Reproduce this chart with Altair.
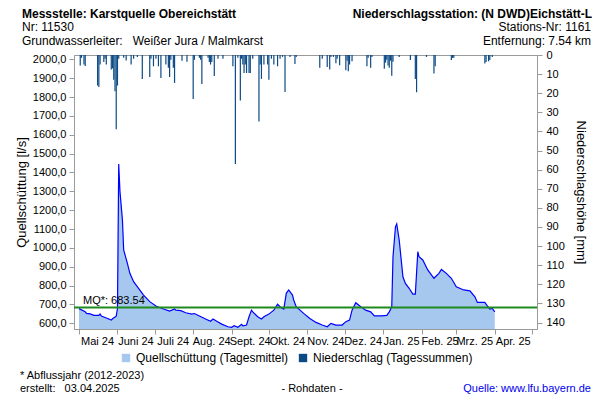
import altair as alt
import pandas as pd

# ---------------- data ----------------
START = "2024-05-01"  # day 0 of the offsets below

flow_day = [0, 5, 6, 9, 12, 16, 17, 18, 22, 26,
            27, 30, 31, 32, 33, 35, 36, 39, 41, 44,
            48, 52, 57, 62, 68, 73, 77, 78, 82, 86,
            91, 93, 97, 102, 106, 108, 111, 115, 120, 123,
            125, 128, 131, 132, 135, 137, 139, 140, 144, 147,
            149, 153, 157, 160, 162, 164, 165, 167, 169, 172,
            173, 175, 181, 186, 191, 196, 200, 203, 207, 212,
            215, 218, 220, 223, 227, 231, 235, 238, 244, 248,
            250, 252, 253, 255, 256, 258, 261, 263, 266, 269,
            271, 273, 274, 277, 281, 286, 290, 292, 296, 300,
            304, 310, 315, 319, 321, 327, 329, 331, 333, 335]
flow_val = [678, 661, 653, 650, 642, 642, 650, 639, 628, 617,
            624, 638, 680, 1445, 1300, 1148, 989, 918, 865, 821,
            786, 750, 715, 692, 676, 665, 676, 670, 667, 656,
            649, 652, 639, 623, 611, 623, 611, 596, 582, 579,
            587, 579, 595, 587, 591, 635, 670, 661, 635, 623,
            635, 649, 670, 701, 688, 679, 676, 759, 777, 750,
            724, 688, 653, 626, 605, 591, 582, 600, 591, 591,
            609, 617, 670, 709, 688, 670, 661, 640, 640, 642,
            661, 688, 953, 1112, 1127, 1042, 847, 812, 786, 755,
            755, 980, 953, 936, 883, 839, 865, 886, 865, 839,
            794, 777, 772, 741, 711, 711, 693, 676, 679, 661]

rain_day = [1, 2, 4, 5, 15, 16, 17, 20, 21, 22,
            26, 27, 28, 29, 30, 31, 32, 36, 38, 42,
            44, 47, 51, 57, 58, 60, 62, 64, 66, 70,
            72, 73, 74, 76, 77, 83, 87, 92, 93, 97,
            98, 99, 104, 105, 106, 107, 109, 112, 116, 124,
            126, 128, 130, 131, 132, 133, 134, 135, 137, 138,
            140, 145, 146, 147, 149, 152, 153, 155, 157, 160,
            162, 164, 166, 170, 174, 175, 194, 196, 200, 202,
            203, 205, 207, 208, 210, 215, 216, 217, 218, 220,
            232, 233, 235, 236, 246, 247, 248, 249, 250, 251,
            252, 253, 258, 267, 271, 272, 280, 286, 287, 300,
            301, 302, 327, 328, 330, 331, 333]
rain_mm = [5.5, 1.5, 5.0, 5.8, 16.0, 16.7, 5.0, 3.7, 2.0, 5.0,
           7.6, 7.0, 12.9, 19.0, 38.8, 16.0, 2.0, 1.5, 2.9, 5.0,
           2.0, 1.0, 12.5, 11.5, 2.0, 5.9, 2.0, 5.9, 12.0, 5.0,
           6.7, 11.5, 2.5, 6.7, 14.6, 3.0, 3.5, 23.0, 2.5, 1.5,
           2.5, 15.2, 1.5, 3.7, 5.0, 3.7, 11.0, 2.0, 2.0, 5.9,
           57.0, 1.5, 23.8, 2.0, 5.0, 9.4, 5.0, 9.4, 9.4, 9.4,
           2.0, 34.8, 5.0, 12.5, 5.0, 5.0, 12.9, 2.0, 5.0, 5.9,
           2.0, 1.0, 19.4, 1.0, 4.7, 1.0, 6.7, 2.0, 6.3, 7.6,
           1.0, 1.0, 4.3, 2.0, 5.3, 8.0, 3.0, 8.5, 5.0, 3.3,
           5.9, 1.5, 6.7, 1.0, 7.2, 4.0, 2.5, 5.5, 6.7, 3.0,
           10.8, 3.5, 1.0, 2.6, 12.5, 19.5, 1.0, 9.7, 5.9, 2.6,
           1.5, 1.5, 4.5, 3.7, 3.3, 2.6, 1.0]

mq_value = 683.54
flow_ticks = list(range(600, 2001, 100))
rain_ticks = list(range(0, 141, 10))
month_names = ["Jan.", "Feb.", "Mrz.", "Apr.", "Mai", "Juni",
               "Juli", "Aug.", "Sept.", "Okt.", "Nov.", "Dez."]
series_names = ["Quellschüttung (Tagesmittel)", "Niederschlag (Tagessummen)"]
series_colors = ["#a6c8ee", "#0c4a85"]

NB = "\u00a0"
header_left = ["Messstelle: Karstquelle Obereichstätt",
               "Nr: 11530",
               "Grundwasserleiter:" + NB * 3 + "Weißer Jura / Malmkarst"]
header_right = ["Niederschlagsstation: (N DWD)Eichstätt-L",
                "Stations-Nr: 1161",
                "Entfernung: 7.54 km"]
footer_note = "* Abflussjahr (2012-2023)"
footer_created = "erstellt:" + NB * 3 + "03.04.2025"
footer_mid = "- Rohdaten -"
footer_source = "Quelle: www.lfu.bayern.de"

# ---------------- tables ----------------
start = pd.Timestamp(START)
flow = pd.DataFrame({"datum": start + pd.to_timedelta(flow_day, unit="D"),
                     "q": flow_val, "serie": series_names[0]})
rain = pd.DataFrame({"datum": start + pd.to_timedelta(rain_day, unit="D"),
                     "mm": rain_mm, "serie": series_names[1]})
mq = pd.DataFrame({"q": [mq_value], "label": [f"MQ*: {mq_value:.2f}"]})

FONT = "Liberation Sans"
W, H = 463, 274
GRAY = "#9a9a9a"

month_starts = [alt.DateTime(year=2024 + (4 + i) // 12, month=(4 + i) % 12 + 1, date=1)
                for i in range(13)]
x_scale = alt.Scale(domain=[month_starts[0], month_starts[-1]])
names_js = "[" + ",".join(f"'{m}'" for m in month_names) + "]"
x_axis = alt.Axis(
    values=month_starts, title=None, grid=False, tickSize=5, labelPadding=1,
    labelOffset=18, labelOverlap=False, labelFlush=False, labelBound=False,
    labelExpr=("(year(datum.value) == 2025 && month(datum.value) == 4) ? '' : "
               + names_js + "[month(datum.value)] + ' ' + timeFormat(datum.value, '%y')"),
)
X = alt.X("datum:T", scale=x_scale, axis=x_axis)

y_flow = alt.Y(
    "q:Q",
    scale=alt.Scale(domain=[570, 2023], nice=False, zero=False),
    axis=alt.Axis(orient="left", values=flow_ticks, title="Quellschüttung [l/s]",
                  labelExpr="replace(format(datum.value, '.1f'), '.', ',')",
                  tickSize=5, labelPadding=3, titlePadding=4),
)
y_rain = alt.Y(
    "mm:Q",
    scale=alt.Scale(domain=[0, 143.4], nice=False, reverse=True),
    axis=alt.Axis(orient="right", values=rain_ticks, title="Niederschlagshöhe [mm]",
                  tickSize=5, labelPadding=4, titlePadding=9),
)
color_scale = alt.Scale(domain=series_names, range=series_colors)
legend = alt.Legend(orient="none", legendX=46, legendY=297, direction="horizontal",
                    title=None, symbolType="square", symbolSize=70, labelFontSize=12,
                    labelFont=FONT, labelColor="#000", columnPadding=8, labelOffset=4,
                    padding=0, symbolStrokeWidth=0)
C = alt.Color("serie:N", scale=color_scale, legend=legend)

area = alt.Chart(flow).mark_area(opacity=1, clip=True).encode(x=X, y=y_flow, color=C)
line = alt.Chart(flow).mark_line(color="#0000ff", strokeWidth=1.2).encode(x=X, y=y_flow)
rule = alt.Chart(mq).mark_rule(color="#1f8a1f", strokeWidth=2).encode(y=y_flow)
mq_text = alt.Chart(mq).mark_text(align="left", baseline="alphabetic", dy=-4,
                                  fontSize=11, font=FONT, color="#000").encode(
    x=alt.value(9), y=y_flow, text="label:N")
flow_layer = alt.layer(area, line, rule, mq_text)

bars = alt.Chart(rain).mark_bar(width=1.2).encode(x=X, y=y_rain, color=C)


def label(txt, x, y, align="left", size=12, weight="normal", color="#000"):
    return alt.Chart(pd.DataFrame({"t": [txt]})).mark_text(
        align=align, baseline="middle", fontSize=size, fontWeight=weight,
        font=FONT, color=color).encode(x=alt.value(x), y=alt.value(y), text="t:N")


texts = [
    label(header_left[0], -52, -41.5, weight="bold"),
    label(header_left[1], -52, -28.5),
    label(header_left[2], -52, -14.5),
    label(header_right[0], 518, -41.5, align="right", weight="bold"),
    label(header_right[1], 517, -28.5, align="right"),
    label(header_right[2], 517, -14.5, align="right"),
    label(footer_note, -54, 321, size=11),
    label(footer_created, -54, 334, size=11),
    label(footer_mid, 238, 334, align="center", size=11),
    label(footer_source, 517, 334, align="right", size=11, color="#0000ee"),
]

chart = alt.layer(flow_layer, bars, *texts).resolve_scale(y="independent").properties(
    width=W, height=H,
    autosize=alt.AutoSizeParams(type="none"),
    padding={"left": 66, "top": 47, "right": 55, "bottom": 67},
).configure_view(stroke=GRAY, strokeWidth=1).configure_axis(
    labelFont=FONT, titleFont=FONT, labelFontSize=11, titleFontSize=13,
    titleFontWeight="normal", labelColor="#000", titleColor="#000",
    domainColor=GRAY, tickColor=GRAY, grid=False,
)

chart.save("out.html", embed_options={"renderer": "svg", "actions": False})
